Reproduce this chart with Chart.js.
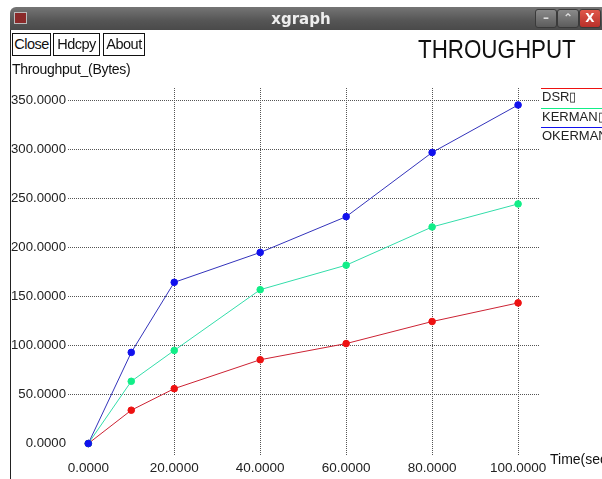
<!DOCTYPE html>
<html>
<head>
<meta charset="utf-8">
<script src="https://cdn.jsdelivr.net/npm/chart.js@4/dist/chart.umd.min.js"></script>
<style>
  html,body{margin:0;padding:0;background:#fff;}
  body{width:602px;height:479px;position:relative;overflow:hidden;font-family:"Liberation Sans",Arial,sans-serif;color:#111;}
  #c{position:absolute;left:0;top:0;}
  .abs{position:absolute;white-space:nowrap;}
  #titlebar{left:10px;top:7px;width:600px;height:23px;background:linear-gradient(#757575,#555 60%,#4a4a4a);border-top-left-radius:6px;border-top-right-radius:6px;}
  #wtitle{left:0;width:602px;top:10px;text-align:center;font:bold 15px "DejaVu Sans",sans-serif;color:#eee;}
  #icon{left:14px;top:12px;width:11px;height:10px;background:#8a2a2a;border:1px solid #bbb;}
  .wb{top:9px;width:20px;height:17px;border:1px solid #3a3a3a;border-radius:3px;background:linear-gradient(#8a8a8a,#5c5c5c);color:#ddd;font:bold 12px "DejaVu Sans",sans-serif;text-align:center;line-height:16px;}
  #leftborder{left:10px;top:30px;width:1px;height:449px;background:#222;}
  .btn{top:33px;height:21px;border:1px solid #111;background:#fff;font-size:14.5px;line-height:21px;text-align:center;letter-spacing:-0.5px;}
  #big{left:418px;top:34px;font-size:26px;transform:scaleX(0.86);transform-origin:left top;color:#111;}
  #ylab{left:12px;top:61px;font-size:14px;letter-spacing:-0.3px;}
  #xlab{left:550px;top:451px;font-size:14px;}
  .lgline{left:541px;width:61px;height:1px;}
  .lgtext{left:542px;font-size:13px;color:#222;}
</style>
</head>
<body>
<canvas id="c" width="602" height="479"></canvas>
<div class="abs" id="titlebar"></div>
<div class="abs" id="icon"></div>
<div class="abs" id="wtitle">xgraph</div>
<div class="abs wb" style="left:535px;">&#8211;</div>
<div class="abs wb" style="left:557px;">&#8963;</div>
<div class="abs wb" style="left:579px;background:linear-gradient(#e0574a,#b8302a);color:#fff;">X</div>
<div class="abs" id="leftborder"></div>
<div class="abs btn" style="left:12px;width:37px;">Close</div>
<div class="abs btn" style="left:53px;width:45px;">Hdcpy</div>
<div class="abs btn" style="left:103px;width:40px;">About</div>
<div class="abs" id="big">THROUGHPUT</div>
<div class="abs" id="ylab">Throughput_(Bytes)</div>
<div class="abs" id="xlab">Time(sec</div>
<div id="legend"></div>
<script>
// ---- data ----
const times = [0, 10, 20, 40, 60, 80, 100];
const dsr = [0, 34, 56, 85.5, 102, 124.5, 143.5];
const kerman = [0, 63.5, 95, 157, 182, 221, 244.5];
const okerman = [0, 93, 164.5, 195, 231.5, 297, 345.5];
const seriesNames = ["DSR\u25AF", "KERMAN\u25AF", "OKERMAN"];
const seriesColors = ["#ee1111", "#11ee88", "#1111ee"];
const lineColors = ["#cc2233", "#33ddaa", "#3333bb"];
const xTicks = [0, 20, 40, 60, 80, 100];
const yTicks = [0, 50, 100, 150, 200, 250, 300, 350];

const seriesValues = [dsr, kerman, okerman];
const datasets = seriesValues.map((vals, i) => ({
  label: seriesNames[i],
  data: times.map((t, j) => ({x: t, y: vals[j]})),
  borderColor: lineColors[i],
  backgroundColor: seriesColors[i],
  pointBackgroundColor: seriesColors[i],
  pointBorderColor: seriesColors[i],
  pointRadius: 3.3,
  borderWidth: 1,
  order: 3 - i,
  tension: 0
}));

// legend
const lg = document.getElementById('legend');
seriesNames.forEach((n, i) => {
  const top = 88 + i * 19.5;
  const l = document.createElement('div');
  l.className = 'abs lgline'; l.style.top = top + 'px'; l.style.background = seriesColors[i];
  lg.appendChild(l);
  const t = document.createElement('div');
  t.className = 'abs lgtext'; t.style.top = (top + 1) + 'px'; t.textContent = n;
  lg.appendChild(t);
});

const gridColor = c => (c.tick && c.tick.value === 0) ? 'rgba(0,0,0,0)' : '#555';

new Chart(document.getElementById('c'), {
  type: 'line',
  data: { datasets },
  options: {
    responsive: false,
    animation: false,
    layout: { padding: { top: 88, right: 62, left: 0, bottom: 0 } },
    plugins: { legend: { display: false }, tooltip: { enabled: false }, title: { display: false } },
    scales: {
      x: {
        type: 'linear', min: -4.72, max: 105.1,
        afterBuildTicks: s => { s.ticks = xTicks.map(v => ({value: v})); },
        afterFit: s => { s.height = 24; },
        ticks: { callback: v => Number(v).toFixed(4), color: '#222', font: {family: '"Liberation Sans", Arial', size: 13.5}, padding: 5, maxRotation: 0, autoSkip: false },
        grid: { color: gridColor, lineWidth: 1, drawTicks: false },
        border: { display: false, dash: [1, 1] }
      },
      y: {
        type: 'linear', min: -11.7, max: 362.8,
        afterBuildTicks: s => { s.ticks = yTicks.map(v => ({value: v})); },
        afterFit: s => { s.width = 68; },
        ticks: { callback: v => Number(v).toFixed(4), color: '#222', font: {family: '"Liberation Sans", Arial', size: 13.2}, padding: 2, autoSkip: false },
        grid: { color: gridColor, lineWidth: 1, drawTicks: false },
        border: { display: false, dash: [1, 1] }
      }
    }
  }
});
</script>
</body>
</html>
